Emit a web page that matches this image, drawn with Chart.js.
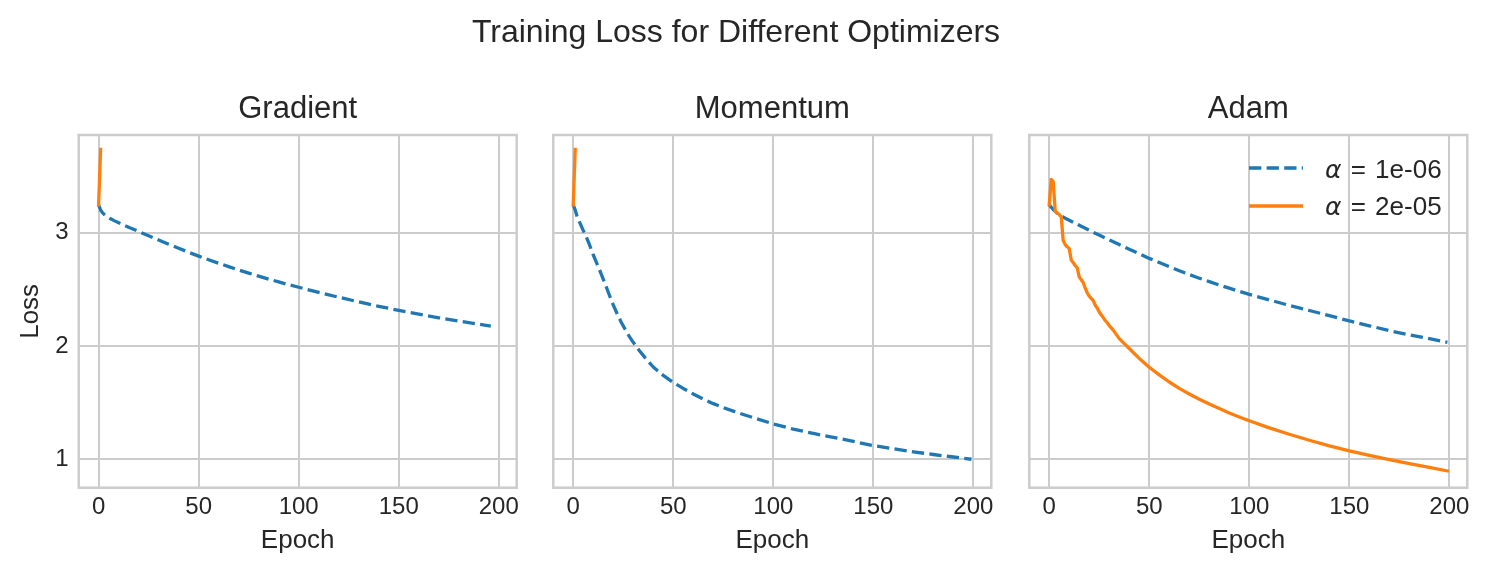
<!DOCTYPE html>
<html><head><meta charset="utf-8">
<script src="https://cdn.jsdelivr.net/npm/chart.js@4.4.0/dist/chart.umd.min.js"></script>
<style>
html,body{margin:0;padding:0;background:#fff;}
#wrap{position:relative;width:1491px;height:574px;overflow:hidden;font-family:"Liberation Sans",Arial,sans-serif;color:#262626;}
#wrap canvas{position:absolute;top:0;}
.t{position:absolute;white-space:nowrap;text-align:center;font-size:31px;line-height:31px;}
#suptitle{font-size:32px;line-height:32px;}
.lg{position:absolute;white-space:nowrap;font-size:26px;line-height:26px;word-spacing:2px;}
.lg i{font-family:"DejaVu Sans",sans-serif;font-style:italic;font-size:25px;}
svg{position:absolute;overflow:visible;}
</style></head><body>
<div id="wrap">
  <canvas id="c1" width="540" height="574" style="left:0px;width:540px;height:574px"></canvas>
  <canvas id="c2" width="475" height="574" style="left:540px;width:475px;height:574px"></canvas>
  <canvas id="c3" width="476" height="574" style="left:1015px;width:476px;height:574px"></canvas>
  <div class="t" id="suptitle" style="left:336px;width:800px;top:15.2px">Training Loss for Different Optimizers</div>
  <div class="t" id="t1" style="left:97.7px;width:400px;top:91.5px"></div>
  <div class="t" id="t2" style="left:572.3px;width:400px;top:91.5px"></div>
  <div class="t" id="t3" style="left:1048.3px;width:400px;top:91.5px"></div>
  <svg style="left:1249px;top:163.3px" width="54" height="10"><line x1="0" y1="5" x2="54" y2="5" stroke="#1f77b4" stroke-width="3.3" stroke-dasharray="12.3 5.3"/></svg>
  <svg style="left:1249px;top:200.7px" width="54" height="10"><line x1="0" y1="5" x2="54" y2="5" stroke="#ff7f0e" stroke-width="3.3"/></svg>
  <div class="lg" id="lg1" style="left:1325px;top:156.3px"></div>
  <div class="lg" id="lg2" style="left:1325px;top:193.0px"></div>
</div>
<script>
// ---- data ----
const panelTitles = ["Gradient", "Momentum", "Adam"];
const seriesLabels = ["1e-06", "2e-05"];
const xTicks = [0, 50, 100, 150, 200];
const yTicks = [1, 2, 3];

const gradEpochs = [0,1,2,3,4,5,6,8,11,15,20,25,30,35,40,45,50,55,60,65,70,75,80,85,90,95,100,110,120,130,140,150,160,170,180,190,196];
const gradBlue = [3.246,3.200,3.175,3.158,3.145,3.133,3.122,3.104,3.079,3.048,3.010,2.972,2.935,2.898,2.862,2.827,2.793,2.761,2.730,2.700,2.671,2.643,2.616,2.590,2.565,2.541,2.518,2.473,2.430,2.389,2.350,2.314,2.280,2.249,2.220,2.192,2.175];
const gradOrangeEpochs = [0,1];
const gradOrange = [3.246,3.735];

const momEpochs = [0,1,2,3,4,5,6,8,10,12,14,16,18,20,22,24,26,28,30,33,36,40,45,50,55,60,65,70,75,80,85,90,100,110,120,130,140,150,160,170,180,190,199];
const momBlue = [3.246,3.200,3.140,3.100,3.060,3.020,2.985,2.900,2.805,2.720,2.635,2.545,2.452,2.362,2.282,2.210,2.145,2.085,2.032,1.960,1.895,1.814,1.740,1.678,1.625,1.576,1.531,1.491,1.456,1.425,1.395,1.367,1.312,1.266,1.228,1.193,1.158,1.120,1.093,1.066,1.042,1.020,1.000];
const momOrangeEpochs = [0,1];
const momOrange = [3.246,3.735];

const adamBlueEpochs = [0,1,2,3,4,5,6,8,10,13,16,20,23,26,30,35,40,45,50,55,60,65,70,75,80,85,90,95,100,110,120,130,140,150,160,170,180,190,199];
const adamBlue = [3.246,3.225,3.205,3.188,3.172,3.158,3.147,3.128,3.110,3.083,3.056,3.021,2.995,2.970,2.937,2.895,2.854,2.814,2.773,2.736,2.700,2.664,2.630,2.598,2.568,2.538,2.510,2.482,2.455,2.406,2.358,2.313,2.268,2.221,2.178,2.135,2.098,2.064,2.032];
const adamOrangeEpochs = [0,1,2,3,4,5,6,7,8,9,10,11,12,13,14,15,16,17,18,19,20,21,22,23,24,25,26,27,28,29,30,32,35,40,45,50,55,60,65,70,75,80,85,90,95,100,110,120,130,140,150,160,170,180,190,199];
const adamOrange = [3.246,3.470,3.450,3.190,3.175,3.160,3.140,2.930,2.895,2.875,2.860,2.760,2.735,2.710,2.690,2.610,2.585,2.560,2.510,2.470,2.440,2.420,2.400,2.360,2.335,2.300,2.275,2.250,2.225,2.205,2.180,2.140,2.065,1.978,1.890,1.812,1.745,1.682,1.626,1.576,1.530,1.487,1.447,1.408,1.373,1.340,1.277,1.221,1.168,1.118,1.074,1.034,0.996,0.961,0.928,0.897];

// ---- style ----
const FONT = '"Liberation Sans", Arial, sans-serif';
const TXT = '#262626';
const GRID = '#cccccc';
const BLUE = '#1f77b4', ORANGE = '#ff7f0e';
const DASH = [12.3, 5.3];
const X_MIN = -9.95, X_MAX = 208.95;
const Y_MIN = 0.749, Y_MAX = 3.862;

document.getElementById('t1').textContent = panelTitles[0];
document.getElementById('t2').textContent = panelTitles[1];
document.getElementById('t3').textContent = panelTitles[2];
document.getElementById('lg1').innerHTML = '<i>α</i> = ' + seriesLabels[0];
document.getElementById('lg2').innerHTML = '<i>α</i> = ' + seriesLabels[1];

const frame = {
  id: 'frame',
  afterDatasetsDraw(chart) {
    const {ctx, chartArea: a} = chart;
    ctx.save();
    ctx.strokeStyle = GRID;
    ctx.lineWidth = 2.5;
    ctx.strokeRect(a.left, a.top, a.right - a.left, a.bottom - a.top);
    ctx.restore();
  }
};

function ds(xs, ys, color, dashed, label, order) {
  return {
    label: label,
    data: xs.map((x, i) => ({x: x, y: ys[i]})),
    borderColor: color,
    backgroundColor: color,
    borderWidth: 3.3,
    borderDash: dashed ? DASH : [],
    borderCapStyle: dashed ? 'butt' : 'square',
    borderJoinStyle: 'round',
    fill: false,
    pointRadius: 0,
    tension: 0,
    order: order
  };
}

function makePanel(id, datasets, yWidth, padRight, showY) {
  return new Chart(document.getElementById(id), {
    type: 'line',
    data: {datasets: datasets},
    options: {
      responsive: false,
      animation: false,
      devicePixelRatio: 1,
      layout: {padding: {top: 135, left: 0, right: padRight, bottom: 0}},
      plugins: {legend: {display: false}, tooltip: {enabled: false}, title: {display: false}},
      scales: {
        x: {
          type: 'linear', min: X_MIN, max: X_MAX,
          afterBuildTicks: s => { s.ticks = xTicks.map(v => ({value: v})); },
          afterFit: s => { s.height = 86.3; s.paddingLeft = 0; s.paddingRight = 0; },
          grid: {color: GRID, lineWidth: 2, drawTicks: false},
          border: {display: false},
          ticks: {color: TXT, font: {family: FONT, size: 24}, padding: 5.6, maxRotation: 0, autoSkip: false, callback: v => String(v)},
          title: {display: true, text: 'Epoch', color: TXT, font: {family: FONT, size: 26}, padding: {top: 0, bottom: 18}}
        },
        y: {
          type: 'linear', min: Y_MIN, max: Y_MAX,
          afterBuildTicks: s => { s.ticks = yTicks.map(v => ({value: v})); },
          afterFit: s => { s.width = yWidth; s.paddingTop = 0; s.paddingBottom = 0; },
          grid: {color: GRID, lineWidth: 2, drawTicks: false},
          border: {display: false},
          ticks: {display: showY, color: TXT, font: {family: FONT, size: 24}, padding: 10, callback: v => String(v)},
          title: {display: showY, text: 'Loss', color: TXT, font: {family: FONT, size: 26}, padding: {top: 15, bottom: 0}}
        }
      }
    },
    plugins: [frame]
  });
}

makePanel('c1', [
  ds(gradEpochs, gradBlue, BLUE, true, seriesLabels[0], 1),
  ds(gradOrangeEpochs, gradOrange, ORANGE, false, seriesLabels[1], 0)
], 78.7, 23.3, true);

makePanel('c2', [
  ds(momEpochs, momBlue, BLUE, true, seriesLabels[0], 1),
  ds(momOrangeEpochs, momOrange, ORANGE, false, seriesLabels[1], 0)
], 13.3, 23.7, false);

makePanel('c3', [
  ds(adamBlueEpochs, adamBlue, BLUE, true, seriesLabels[0], 1),
  ds(adamOrangeEpochs, adamOrange, ORANGE, false, seriesLabels[1], 0)
], 14.3, 23.7, false);
</script>
</body></html>
